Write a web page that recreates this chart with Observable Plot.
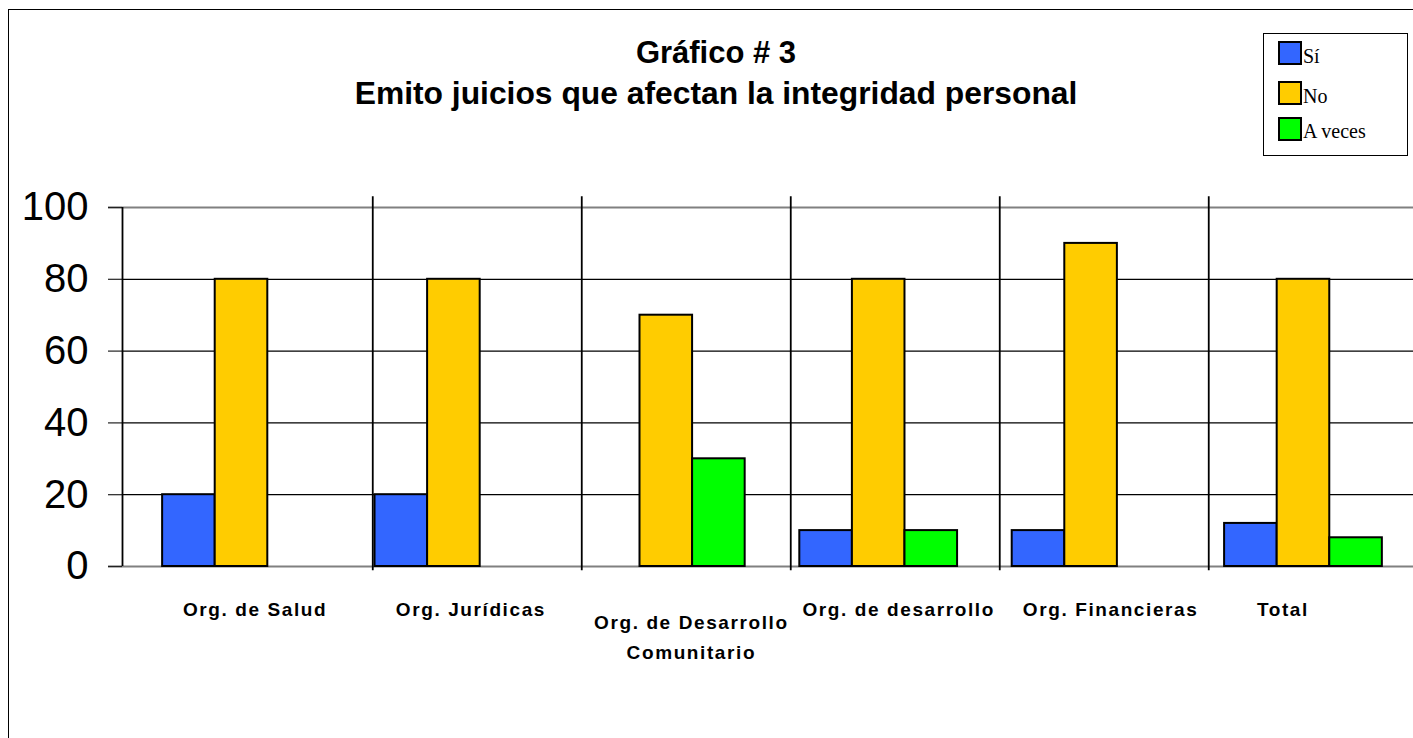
<!DOCTYPE html>
<html>
<head>
<meta charset="utf-8">
<script src="https://cdn.jsdelivr.net/npm/d3@7"></script>
<script src="https://cdn.jsdelivr.net/npm/@observablehq/plot@0.6"></script>
<style>
  html, body { margin: 0; padding: 0; background: #fff; overflow: hidden; width: 1413px; height: 738px; }
  #wrap { position: relative; width: 1413px; height: 738px; overflow: hidden; }
  #border { position: absolute; left: 8px; top: 9px; width: 3000px; height: 3000px; border: 1.5px solid #000; }
  #chart { position: absolute; left: 0; top: 0; }
  .title { position: absolute; left: 0; width: 1432px; text-align: center; font: bold 31px "Liberation Sans", Arial, sans-serif; line-height: 31px; color: #000; white-space: nowrap; }
  #legend { position: absolute; left: 1263px; top: 33px; width: 143px; height: 121px; border: 1.5px solid #000; background: #fff; }
  .sw { position: absolute; left: 14px; width: 20px; height: 20px; border: 2px solid #000; }
  .lt { position: absolute; left: 39px; font: 20px "Liberation Serif", "Times New Roman", serif; line-height: 20px; color: #000; white-space: nowrap; }
</style>
</head>
<body>
<div id="wrap">
  <div id="border"></div>
  <div id="chart"></div>
  <div class="title" id="t1" style="top:37px"></div>
  <div class="title" id="t2" style="top:78px; font-size:31.8px"></div>
  <div id="legend"></div>
</div>
<script>
// ---- data ----
const titleLines = ["Gráfico # 3", "Emito juicios que afectan la integridad personal"];
const categories = ["Org. de Salud", "Org. Jurídicas", "Org. de Desarrollo\nComunitario", "Org. de desarrollo", "Org. Financieras", "Total"];
const seriesNames = ["Sí", "No", "A veces"];
const si = [20, 20, 0, 10, 10, 12];
const no = [80, 80, 70, 80, 90, 80];
const aVeces = [0, 0, 30, 10, 0, 8];
const yTicks = [0, 20, 40, 60, 80, 100];
const seriesColors = ["#3366FF", "#FFCC00", "#00FF00"];

// ---- layout ----
const seriesValues = [si, no, aVeces];
const rows = [];
seriesValues.forEach((vals, s) => vals.forEach((v, i) => { if (v > 0) rows.push({i, s, series: seriesNames[s], value: v}); }));
const barW = 0.2476;
const xMin = -0.5603, xMax = 5.518;
const seps = d3.range(1, categories.length).map(k => 0.618 + 0.984 * (k - 1));
const labelShift = [0.064, 0.080, 0.118, 0.094, 0.092, -0.097];
const labels = categories.map((c, i) => ({i, label: c}));

const chart = Plot.plot({
  width: 1413, height: 738,
  marginLeft: 122, marginRight: 0, marginTop: 207, marginBottom: 172,
  x: {domain: [xMin, xMax], axis: null},
  y: {domain: [0, 100], axis: null},
  color: {domain: seriesNames, range: seriesColors},
  style: {background: "transparent", overflow: "visible"},
  marks: [
    Plot.ruleY(yTicks.filter(t => t > 0 && t < 100), {stroke: "#000", strokeWidth: 1.2}),
    Plot.ruleY([0, 100], {x1: xMin - 14 / 212.4, x2: xMax, stroke: "#808080", strokeWidth: 2}),
    Plot.axisY({ticks: yTicks, label: null, tickSize: 14, tickPadding: 20, fontSize: 40, fontFamily: "Liberation Sans, Arial, sans-serif", stroke: "#222", strokeWidth: 1.2}),
    Plot.ruleX(seps, {y1: -1.2, y2: 103, stroke: "#000", strokeWidth: 1.8}),
    Plot.ruleX([xMin], {y1: 0, y2: 100, stroke: "#000", strokeWidth: 1.8}),
    Plot.rect(rows, {
      x1: d => d.i + (d.s - 1.5) * barW,
      x2: d => d.i + (d.s - 0.5) * barW,
      y1: 0, y2: "value",
      fill: "series", stroke: "#000", strokeWidth: 2
    }),
    Plot.text(labels, {
      x: d => d.i + labelShift[d.i],
      y: d => d.label.includes("\n") ? -18.8 : -11.2,
      text: "label",
      fontSize: 19, fontWeight: "bold", fontFamily: "Liberation Sans, Arial, sans-serif",
      lineHeight: 1.6, fill: "#000"
    })
  ]
});
d3.select(chart).selectAll("g[aria-label='text'] text").style("letter-spacing", "1.6px");
document.getElementById("chart").appendChild(chart);

document.getElementById("t1").textContent = titleLines[0];
document.getElementById("t2").textContent = titleLines[1];

const lg = document.getElementById("legend");
const swTops = [7, 47, 83];
const txTops = [12, 52, 87];
seriesNames.forEach((n, s) => {
  const sw = document.createElement("div");
  sw.className = "sw"; sw.style.top = swTops[s] + "px"; sw.style.background = seriesColors[s];
  lg.appendChild(sw);
  const t = document.createElement("div");
  t.className = "lt"; t.style.top = txTops[s] + "px"; t.textContent = n;
  lg.appendChild(t);
});
</script>
</body>
</html>
